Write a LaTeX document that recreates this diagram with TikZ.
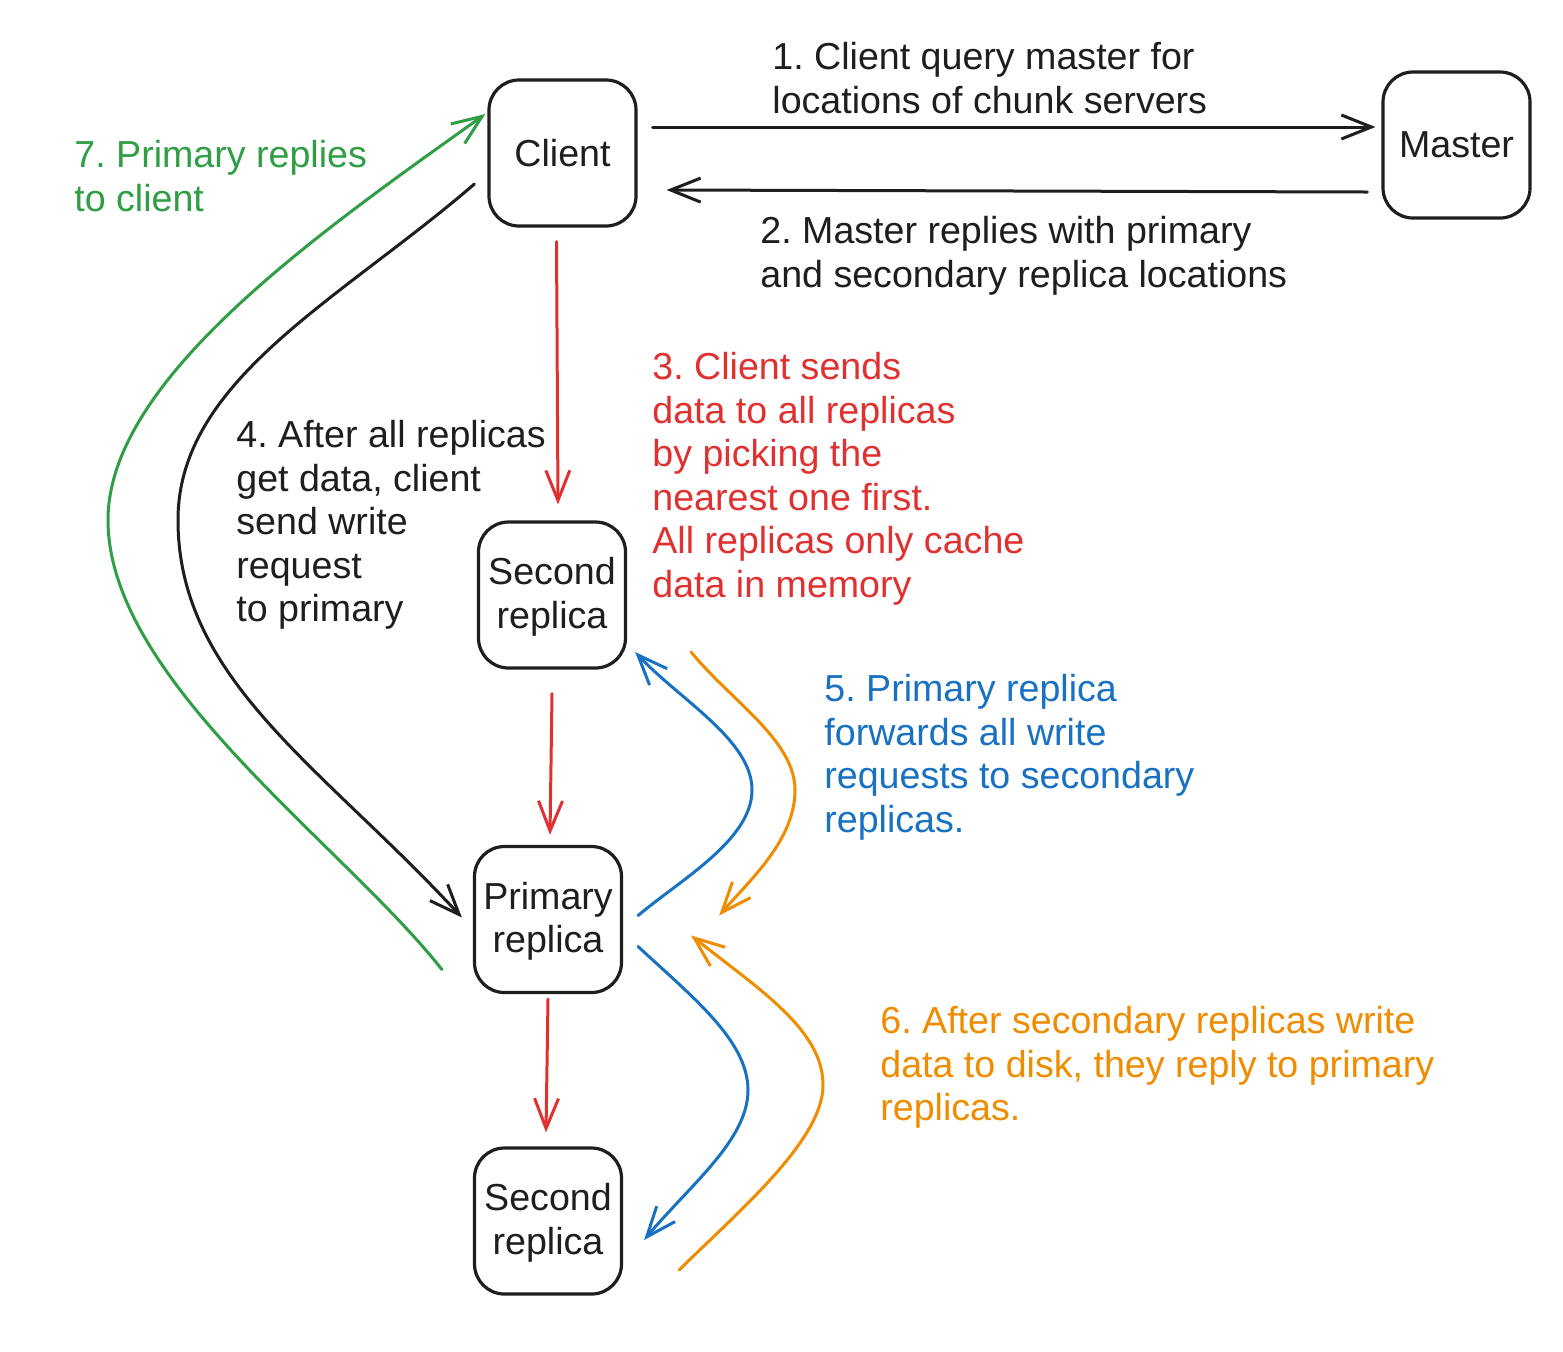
\documentclass[tikz,border=0pt]{standalone}
\usepackage{fontspec}
\setmainfont{Liberation Sans}
\frenchspacing
\usetikzlibrary{arrows.meta,calc}
\definecolor{ink}{HTML}{1E1E1E}
\definecolor{xred}{HTML}{E03131}
\definecolor{xblue}{HTML}{1971C2}
\definecolor{xorange}{HTML}{F08C00}
\definecolor{xgreen}{HTML}{2F9E44}
\begin{document}
\begin{tikzpicture}[x=0.5pt,y=-0.5pt,
  box/.style={draw=ink,line width=1.6pt,rounded corners=15pt,minimum width=73.5pt,minimum height=73pt,align=center,inner sep=0pt,font=\fontsize{18.8}{21.75}\selectfont,text=ink},
  lbl/.style={anchor=north west,align=left,inner sep=0pt,font=\fontsize{18.8}{21.75}\selectfont},
  conn/.style={line width=1.5pt,-{Straight Barb[length=15pt,width=12pt]},line cap=round,line join=round}]
\useasboundingbox[fill=white] (0,0) rectangle (1563,1351);

% boxes
\node[box] (Client) at (562.5,153) {Client};
\node[box] (Master) at (1456.5,145) {Master};
\node[box] (S1) at (552,595) {\strut Second\\replica};
\node[box] (P) at (548,919.5) {\strut Primary\\replica};
\node[box] (S2) at (548,1221) {\strut Second\\replica};

% labels
\node[lbl,text=ink] (t1) at (772,42) {1. Client query master for\\locations of chunk servers};
\node[lbl,text=ink] (t2) at (760,216) {2. Master replies with primary\\and secondary replica locations};
\node[lbl,text=xred] (t3) at (652,352) {3. Client sends\\data to all replicas\\by picking the\\nearest one first.\\All replicas only cache\\data in memory};
\node[lbl,text=ink] (t4) at (236,420) {4. After all replicas\\get data, client\\send write\\request\\to primary};
\node[lbl,text=xblue] (t5) at (824,674) {5. Primary replica\\forwards all write\\requests to secondary\\replicas.};
\node[lbl,text=xorange] (t6) at (880,1006) {6. After secondary replicas write\\data to disk, they reply to primary\\replicas.};
\node[lbl,text=xgreen] (t7) at (74,140) {7. Primary replies\\to client};

% straight black
\draw[conn,ink] ($(Client.east)+(15,-26)$) -- ($(Master.west)+(-6,-18)$);
\draw[conn,ink] ($(Master.west)+(-14,47)$) -- ($(Client.east)+(29,37)$);

% red
\draw[conn,xred] ($(Client.south)+(-6,14)$) -- ($(S1.north)+(6,-16)$);
\draw[conn,xred] ($(S1.south)+(0,24)$) -- ($(P.north)+(2,-10)$);
\draw[conn,xred] ($(P.south)+(0,5)$) -- ($(S2.north)+(-2,-14)$);

% curve end points
\coordinate (k1) at ($(Client.west)+(-13,31)$);
\coordinate (k2) at ($(P.west)+(-11,-2)$);
\coordinate (g1) at ($(P.west)+(-31,50)$);
\coordinate (g2) at ($(Client.west)+(-2,-39)$);
\coordinate (b1) at ($(P.east)+(15,-4)$);
\coordinate (b2) at ($(S1.east)+(8,57)$);
\coordinate (o1) at ($(S1.east)+(64,57)$);
\coordinate (o2) at ($(P.east)+(96,-4)$);
\coordinate (b3) at ($(P.east)+(15,27)$);
\coordinate (b4) at ($(S2.east)+(21,19)$);
\coordinate (o3) at ($(S2.east)+(56,49)$);
\coordinate (o4) at ($(P.east)+(68,16)$);

% black curve (4)
\draw[conn,ink] (k1) .. controls (340,300) and (178,380) .. (178,520)
  .. controls (178,680) and (323,767) .. (k2);
% green curve (7)
\draw[conn,xgreen] (g1) .. controls (343,844) and (108,680) .. (108,520)
  .. controls (108,380) and (317,234) .. (g2);
% blue 5
\draw[conn,xblue] (b1) .. controls (680,880) and (752,840) .. (752,790)
  .. controls (752,740) and (680,700) .. (b2);
\draw[conn,xblue] (b3) .. controls (690,995) and (748,1040) .. (748,1090)
  .. controls (748,1140) and (690,1185) .. (b4);
% orange 6
\draw[conn,xorange] (o1) .. controls (730,700) and (795,740) .. (795,790)
  .. controls (795,840) and (750,880) .. (o2);
\draw[conn,xorange] (o3) .. controls (740,1210) and (823,1140) .. (823,1085)
  .. controls (823,1030) and (760,990) .. (o4);
\end{tikzpicture}
\end{document}
